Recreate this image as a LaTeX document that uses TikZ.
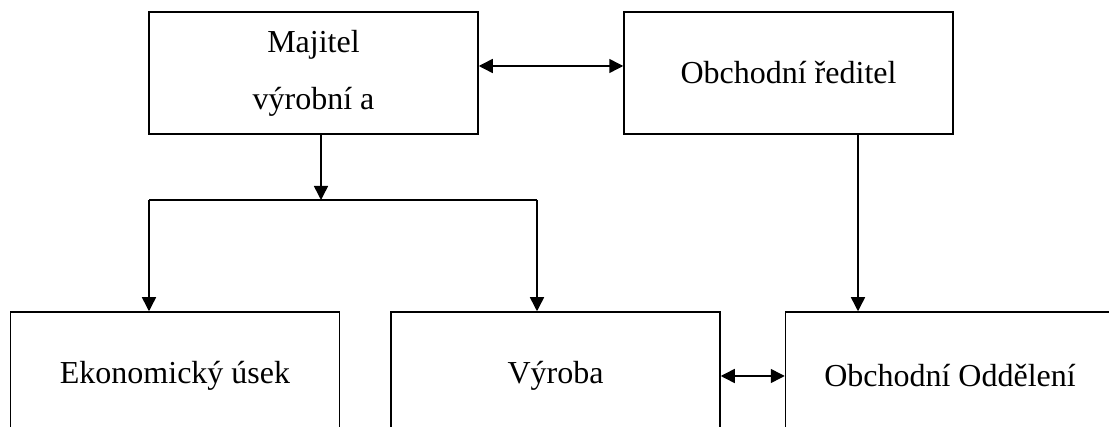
\documentclass[tikz,border=0pt]{standalone}
\usepackage{fontspec}
\setmainfont{Liberation Serif}
\usepackage{tikz}
\usetikzlibrary{arrows.meta,positioning,calc}

\begin{document}
\begin{tikzpicture}[x=1pt,y=-1pt,>={Triangle[length=14pt,width=14pt]},font=\fontsize{32}{57}\selectfont]
\tikzset{box/.style={draw=black,line width=1.5pt,minimum width=329pt,minimum height=122pt,align=center,inner sep=0pt},lowbox/.style={box,minimum height=128pt},arr/.style={->,line width=1.5pt},arr2/.style={<->,line width=1.5pt}}
\useasboundingbox (0,0) rectangle (1109,427);
\clip (0,0) rectangle (1109,427);
\node[box] (a) at (313.5,73) {Majitel\\výrobní a};
\node[box] (b) at (788.5,73) {Obchodní ředitel};
\node[lowbox] (c) at (175,376) {Ekonomický úsek};
\node[lowbox] (d) at (555.5,376) {Výroba};
\node[lowbox] (e) at (950,376) {Obchodní Oddělení};
\coordinate (jm) at (321,200);
\coordinate (jl) at (149,200);
\coordinate (jr) at (537,200);
\coordinate (fx) at (858,0);
\draw[arr2] ([yshift=7pt]a.east) -- ([yshift=7pt]b.west);
\draw[arr] (a.south -| jm) -- (jm);
\draw[line width=1.5pt] (jl) -- (jr);
\draw[arr] (jl) -- (c.north -| jl);
\draw[arr] (jr) -- (d.north -| jr);
\draw[arr] (b.south -| fx) -- (e.north -| fx);
\draw[arr2] (d) -- (e);
\end{tikzpicture}
\end{document}
